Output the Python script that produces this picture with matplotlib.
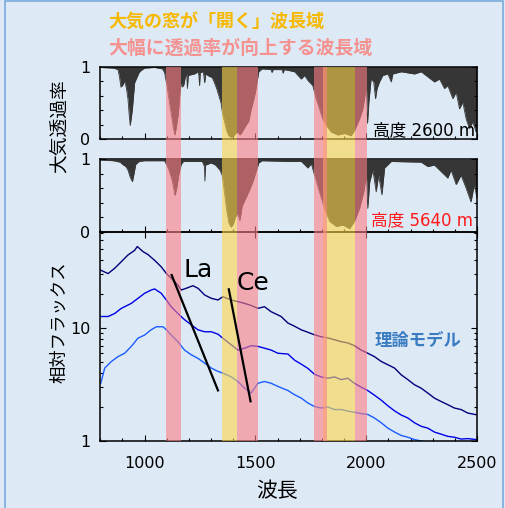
import matplotlib
matplotlib.use('Agg')
import matplotlib.pyplot as plt
from matplotlib.patches import Rectangle
from matplotlib.ticker import FixedLocator, NullFormatter

plt.rcParams['font.family'] = ['DejaVu Sans', 'Noto Sans CJK JP']

# atmospheric transmission at 2600 m
wl_2600 = [800, 860, 880, 887, 893, 900, 910, 918, 925, 930, 935, 940, 945, 950, 955, 965,
           975, 985, 1000, 1045, 1080, 1090, 1100, 1110, 1120, 1130, 1137, 1145, 1152, 1160,
           1165, 1170, 1177, 1183, 1190, 1193, 1197, 1210, 1225, 1240, 1245, 1248, 1251, 1265,
           1271, 1276, 1290, 1305, 1315, 1325, 1335, 1345, 1352, 1360, 1370, 1380, 1390, 1400,
           1410, 1420, 1430, 1440, 1455, 1470, 1480, 1490, 1500, 1508, 1515, 1530, 1570, 1575,
           1580, 1620, 1625, 1630, 1647, 1677, 1707, 1722, 1737, 1759, 1774, 1789, 1804, 1820,
           1842, 1872, 1902, 1932, 1947, 1970, 1985, 1995, 2001, 2006, 2012, 2022, 2034, 2042,
           2049, 2060, 2075, 2098, 2113, 2120, 2158, 2218, 2248, 2278, 2308, 2331, 2353, 2368,
           2391, 2406, 2421, 2436, 2451, 2466, 2481, 2496, 2500]
tr_2600 = [0.99, 0.98, 0.96, 0.85, 0.72, 0.74, 0.80, 0.70, 0.55, 0.35, 0.19, 0.30, 0.42, 0.60,
           0.78, 0.85, 0.92, 0.95, 0.98, 0.99, 0.97, 0.92, 0.75, 0.55, 0.35, 0.15, 0.06, 0.20,
           0.35, 0.65, 0.80, 0.72, 0.75, 0.85, 0.90, 0.70, 0.88, 0.89, 0.90, 0.93, 0.88, 0.74,
           0.92, 0.93, 0.78, 0.90, 0.87, 0.85, 0.78, 0.70, 0.60, 0.50, 0.35, 0.25, 0.12, 0.05,
           0.03, 0.04, 0.08, 0.10, 0.06, 0.10, 0.18, 0.25, 0.40, 0.52, 0.65, 0.80, 0.93, 0.97,
           0.96, 0.92, 0.96, 0.96, 0.91, 0.96, 0.95, 0.93, 0.83, 0.88, 0.81, 0.74, 0.56, 0.42,
           0.28, 0.19, 0.10, 0.06, 0.08, 0.05, 0.12, 0.28, 0.42, 0.61, 0.74, 0.22, 0.51, 0.83,
           0.79, 0.56, 0.70, 0.79, 0.88, 0.90, 0.79, 0.90, 0.93, 0.90, 0.93, 0.86, 0.79, 0.83,
           0.70, 0.74, 0.56, 0.65, 0.42, 0.51, 0.28, 0.15, 0.24, 0.10, 0.10]

# atmospheric transmission at 5640 m
wl_5640 = [800, 860, 890, 900, 915, 925, 935, 945, 952, 960, 975, 1000, 1090, 1100, 1110, 1125,
           1137, 1145, 1155, 1165, 1175, 1260, 1270, 1272, 1275, 1300, 1320, 1340, 1350, 1360,
           1370, 1380, 1390, 1400, 1410, 1420, 1430, 1440, 1455, 1470, 1490, 1505, 1515, 1530,
           1647, 1707, 1737, 1752, 1767, 1789, 1812, 1835, 1865, 1895, 1925, 1947, 1970, 1989,
           2001, 2007, 2016, 2030, 2045, 2056, 2071, 2083, 2113, 2248, 2278, 2308, 2338, 2368,
           2383, 2406, 2428, 2451, 2473, 2488, 2500]
tr_5640 = [0.99, 0.98, 0.96, 0.93, 0.90, 0.85, 0.75, 0.69, 0.80, 0.93, 0.97, 0.98, 0.98, 0.92,
           0.85, 0.70, 0.50, 0.60, 0.80, 0.93, 0.97, 0.97, 0.90, 0.70, 0.92, 0.95, 0.92, 0.85,
           0.78, 0.55, 0.30, 0.12, 0.06, 0.10, 0.20, 0.25, 0.15, 0.35, 0.45, 0.55, 0.70, 0.85,
           0.95, 0.98, 0.97, 0.97, 0.88, 0.94, 0.78, 0.55, 0.32, 0.14, 0.07, 0.09, 0.04, 0.14,
           0.32, 0.55, 0.78, 0.32, 0.69, 0.85, 0.55, 0.78, 0.51, 0.88, 0.97, 0.96, 0.90, 0.92,
           0.83, 0.74, 0.85, 0.65, 0.78, 0.60, 0.41, 0.65, 0.46]

# relative flux, three objects
wl_a = [800, 835, 865, 895, 925, 955, 967, 993, 1015, 1045, 1075, 1098, 1120, 1150, 1165, 1188,
        1218, 1241, 1271, 1301, 1331, 1353, 1391, 1421, 1451, 1481, 1511, 1541, 1571, 1616, 1647,
        1677, 1707, 1737, 1767, 1797, 1827, 1857, 1887, 1917, 1947, 1977, 2007, 2037, 2068, 2098,
        2128, 2158, 2188, 2218, 2248, 2278, 2308, 2338, 2368, 2398, 2428, 2458, 2496]
flux_a = [32.8, 30.5, 34, 38.9, 44.6, 49, 53, 47.7, 45, 40, 35, 30.6, 27.7, 24.2, 21.8, 22.6,
          23.8, 22.6, 19.7, 18.4, 17.8, 19, 17.8, 17.2, 16.6, 15.9, 15, 15.5, 14, 12.7, 11.1,
          10.4, 9.67, 9.2, 8.73, 8.4, 8.2, 7.9, 7.6, 7.4, 7.0, 6.4, 6.0, 5.6, 5.07, 4.74, 4.43,
          3.86, 3.5, 3.15, 2.94, 2.66, 2.4, 2.24, 2.1, 1.96, 1.9, 1.77, 1.71]

wl_b = [800, 835, 865, 895, 940, 970, 1000, 1030, 1045, 1075, 1098, 1120, 1150, 1180, 1211, 1241,
        1271, 1301, 1331, 1353, 1391, 1421, 1451, 1481, 1511, 1541, 1571, 1601, 1647, 1677, 1707,
        1737, 1767, 1797, 1827, 1857, 1887, 1917, 1947, 1977, 2007, 2037, 2068, 2098, 2128, 2158,
        2188, 2218, 2248, 2278, 2308, 2338, 2368, 2398, 2428, 2458, 2496]
flux_b = [12.7, 12.7, 13.5, 15, 16.6, 18.4, 20.4, 21.8, 22.3, 20.4, 17.8, 15.5, 13.5, 11.9, 10.7,
          9.67, 9.3, 9.3, 8.85, 8.16, 7.12, 6.4, 6.65, 7.0, 6.9, 6.65, 6.4, 6.0, 5.9, 5.2, 4.8,
          4.4, 3.9, 3.7, 3.6, 3.7, 3.5, 3.6, 3.25, 3.0, 2.8, 2.55, 2.3, 2.05, 1.85, 1.7, 1.6,
          1.45, 1.35, 1.3, 1.2, 1.15, 1.1, 1.08, 1.04, 1.05, 1.03]

wl_c = [802, 820, 850, 880, 910, 940, 970, 1000, 1030, 1053, 1083, 1098, 1120, 1150, 1180, 1211,
        1241, 1271, 1301, 1331, 1353, 1391, 1421, 1451, 1481, 1511, 1541, 1571, 1601, 1647, 1677,
        1707, 1737, 1767, 1797, 1827, 1857, 1887, 1917, 1947, 1977, 2007, 2037, 2068, 2098, 2128,
        2158, 2188, 2218, 2248, 2278, 2308]
flux_c = [3.25, 4.43, 5.07, 5.6, 6.0, 6.9, 8.16, 8.7, 9.7, 10.3, 10.3, 9.7, 8.7, 7.6, 6.4, 5.8,
          5.4, 4.9, 4.43, 4.14, 4.0, 3.7, 3.37, 2.94, 2.66, 3.25, 3.37, 3.25, 3.05, 2.8, 2.57,
          2.4, 2.17, 2.02, 1.96, 2.0, 1.9, 1.9, 1.84, 1.8, 1.75, 1.72, 1.6, 1.45, 1.3, 1.2, 1.12,
          1.08, 1.03, 1.0, 0.97, 0.95]

# wavelength bands (nm)
open_bands = [(1350, 1418), (1804, 1950)]
boost_bands = [(1097, 1165), (1418, 1510), (1766, 1822), (1950, 2002)]

# La / Ce guide lines
la_x = [1122, 1331]
la_y = [29.6, 2.81]
ce_x = [1380, 1478]
ce_y = [22.1, 2.25]

bg = '#dde9f5'
W, H = 506, 508
fig = plt.figure(figsize=(W / 100, H / 100), dpi=100, facecolor=bg)

left = 100.3 / W
width = 376.7 / W


def ax_rect(top_px, bottom_px):
    return [left, 1 - bottom_px / H, width, (bottom_px - top_px) / H]


ax1 = fig.add_axes(ax_rect(66.7, 139.3))
ax2 = fig.add_axes(ax_rect(159.3, 231.5))
ax3 = fig.add_axes(ax_rect(231.5, 441))

for ax in (ax1, ax2, ax3):
    ax.set_facecolor('none')
    ax.set_xlim(800, 2500)
    for s in ax.spines.values():
        s.set_linewidth(1.1)
    ax.xaxis.set_major_locator(FixedLocator([1000, 1500, 2000, 2500]))
    ax.xaxis.set_minor_locator(FixedLocator(list(range(800, 2501, 100))))
    ax.tick_params(which='both', direction='in', right=True, labelsize=11.5, width=0.8)
    ax.tick_params(which='major', length=4)
    ax.tick_params(which='minor', length=2.5)

for ax, wl, tr in ((ax1, wl_2600, tr_2600), (ax2, wl_5640, tr_5640)):
    ax.fill_between(wl, tr, 1, color='#363636', lw=0)
    ax.plot(wl, tr, color='#363636', lw=0.6)
    ax.set_ylim(0, 1)
    ax.set_yticks([0, 1])
    ax.set_yticklabels(['0', '1'])
    ax.yaxis.set_minor_locator(FixedLocator([0.2, 0.4, 0.6, 0.8]))
    ax.tick_params(axis='x', labelbottom=False, top=False)
    ax.tick_params(axis='y', pad=7)

ax1.text(0.995, 0.13, '高度 2600 m', transform=ax1.transAxes, ha='right', va='center',
         fontsize=12, color='black')
ax2.text(0.99, 0.16, '高度 5640 m', transform=ax2.transAxes, ha='right', va='center',
         fontsize=12, color='#ff1a1a')

ax3.plot(wl_a, flux_a, color='#00007a', lw=1.0)
ax3.plot(wl_b, flux_b, color='#0000e6', lw=1.0)
ax3.plot(wl_c, flux_c, color='#1a5cff', lw=1.0)
ax3.set_yscale('log')
ax3.set_ylim(1, 72)
ax3.yaxis.set_major_locator(FixedLocator([1, 10]))
ax3.yaxis.set_minor_locator(FixedLocator([2, 3, 4, 5, 6, 7, 8, 9, 20, 30, 40, 50, 60, 70]))
ax3.yaxis.set_minor_formatter(NullFormatter())
ax3.set_yticklabels(['1', '10'])
ax3.tick_params(axis='x', top=True, pad=11)
ax3.tick_params(axis='y', pad=7)

# bands on top of everything, spanning all three panels
band_ax = fig.add_axes(ax_rect(66.7, 441), zorder=5)
band_ax.set_xlim(800, 2500)
band_ax.set_ylim(0, 1)
band_ax.axis('off')
for x0, x1 in open_bands:
    band_ax.axvspan(x0, x1, color='#ffd54a', alpha=0.6, lw=0)
for x0, x1 in boost_bands:
    band_ax.axvspan(x0, x1, color='#ff7f84', alpha=0.6, lw=0)

# annotations above the bands
ann = fig.add_axes(ax_rect(231.5, 441), zorder=6)
ann.set_xlim(800, 2500)
ann.set_yscale('log')
ann.set_ylim(1, 72)
ann.axis('off')
ann.plot(la_x, la_y, color='black', lw=1.6)
ann.plot(ce_x, ce_y, color='black', lw=1.6)
ann.text(1243, 32.6, 'La', fontsize=18, ha='center', va='center')
ann.text(1491, 25.0, 'Ce', fontsize=18, ha='center', va='center')

fig.text(418 / W, 1 - 341 / H, '理論モデル', fontsize=12.5, fontweight='bold',
         color='#3a7cc2', ha='center', va='center')
fig.text(108 / W, 1 - 23 / H, '大気の窓が「開く」波長域', fontsize=13, fontweight='bold',
         color='#f6b800', ha='left', va='center')
fig.text(108 / W, 1 - 48 / H, '大幅に透過率が向上する波長域', fontsize=13.6, fontweight='bold',
         color='#f59290', ha='left', va='center')
fig.text(59 / W, 1 - 126 / H, '大気透過率', rotation=90, fontsize=13.5, ha='center', va='center')
fig.text(59 / W, 1 - 322 / H, '相対フラックス', rotation=90, fontsize=12.5, ha='center', va='center')
fig.text(277 / W, 1 - 491 / H, '波長', fontsize=15, ha='center', va='center')

fig.patches.append(Rectangle((5.5 / W, -0.1), 497.5 / W, 1.1 - 0.8 / H, transform=fig.transFigure,
                             fill=False, edgecolor='#7aaadc', lw=1.2))

fig.savefig('out.png', dpi=100, facecolor=bg)
